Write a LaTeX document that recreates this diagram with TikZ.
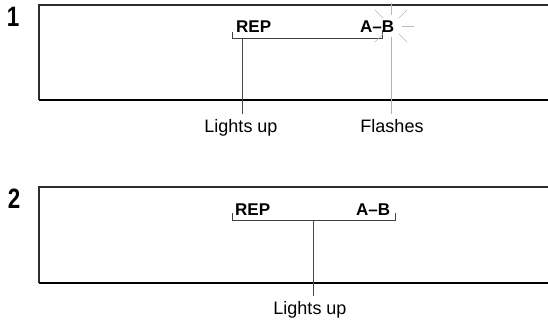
\documentclass[tikz,border=0pt]{standalone}
\usepackage{fontspec}
\setmainfont{Liberation Sans}
\setsansfont{Liberation Sans}
\usetikzlibrary{positioning}

\begin{document}
\begin{tikzpicture}[
  x=1pt, y=-1pt,
  font=\sffamily,
  panelno/.style={font=\sffamily\bfseries\fontsize{28}{28}\selectfont, inner sep=0pt},
  seg/.style={font=\sffamily\bfseries\fontsize{17}{17}\selectfont, inner sep=0pt, anchor=base west},
  callout/.style={font=\fontsize{18}{18}\selectfont, inner sep=5pt, anchor=north},
  frame/.style={draw=gray!35!black, line width=1.4pt},
  baseline/.style={draw=black, line width=1.6pt},
  bracket/.style={draw=gray!50!black, line width=0.8pt},
  leader/.style={draw=gray!55!black, line width=0.9pt},
  flashlead/.style={draw=gray!60, line width=1pt},
  ray/.style={draw=gray!55, line width=0.6pt},
]
  \useasboundingbox (0,0) rectangle (548,322);

  % --- Step 1 ---
  \node[panelno] (no1) at (13,17) {\scalebox{0.8}[1]{1}};
  \draw[frame] (548,5) -- (39,5) -- (39,100);
  \draw[baseline] (39,100) -- (548,100);
  \node[seg] (rep1) at (236,32) {REP};
  \node[seg] (ab1) at (360,32) {A\textendash B};
  \draw[bracket] (232,32) -- (232,38) -- (382,38) -- (382,30);
  \coordinate (rep1tick) at (242,38);
  \coordinate (flashc) at (391,26);
  \foreach \a in {0,45,135,225,270,315}
    \draw[ray] (flashc) ++(\a:11) -- ++(\a:12);
  \coordinate (ab1tick) at (391,37);
  \node[callout] (lights1) at (241,114) {Lights up};
  \node[callout] (flashes) at (392,114) {Flashes};
  \draw[leader] (rep1tick) -- (rep1tick |- lights1.north);
  \draw[flashlead] (ab1tick) -- (ab1tick |- flashes.north);

  % --- Step 2 ---
  \node[panelno] (no2) at (14,199) {\scalebox{0.8}[1]{2}};
  \draw[frame] (548,187) -- (39,187) -- (39,283);
  \draw[baseline] (39,283) -- (548,283);
  \node[seg] (rep2) at (235,215) {REP};
  \node[seg] (ab2) at (356,215) {A\textendash B};
  \draw[bracket] (232,213) -- (232,220) -- (395,220) -- (395,213);
  \coordinate (both2tick) at (313,220);
  \node[callout] (lights2) at (310,296) {Lights up};
  \draw[leader] (both2tick) -- (both2tick |- lights2.north);

\end{tikzpicture}
\end{document}
